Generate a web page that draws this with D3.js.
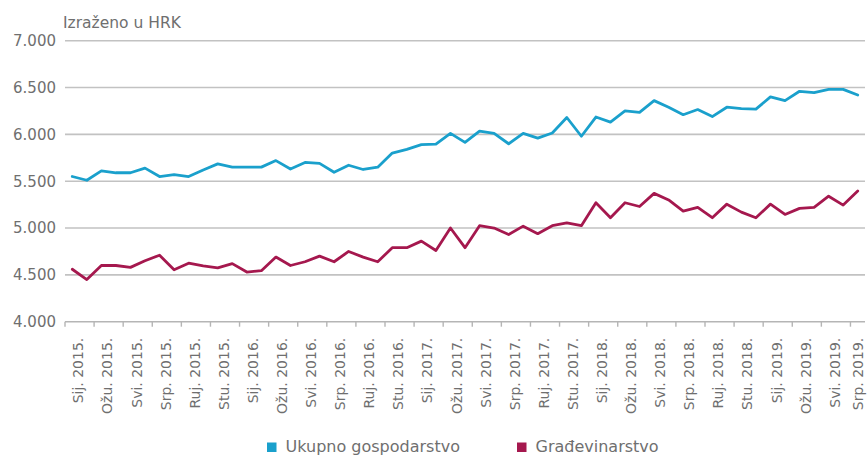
<!DOCTYPE html>
<html>
<head>
<meta charset="utf-8">
<script src="https://cdn.jsdelivr.net/npm/d3@7"></script>
<style>
  html, body { margin: 0; padding: 0; background: #fff; }
  svg { display: block; }
  text { font-family: "DejaVu Sans", sans-serif; fill: #6f6f6f; }
</style>
</head>
<body>
<svg id="chart" width="867" height="455"></svg>
<script>
const monthNames = ["Sij.", "Velj.", "Ožu.", "Tra.", "Svi.", "Lip.", "Srp.", "Kol.", "Ruj.", "Lis.", "Stu.", "Pro."];
const years = [2015, 2016, 2017, 2018, 2019];
const months = [];
years.forEach(yr => monthNames.forEach(m => months.push(m + " " + yr + ".")));
const categories = months.slice(0, 55); // Sij. 2015. – Srp. 2019.

const ukupno = [
  5550, 5510, 5610, 5590, 5590, 5640, 5550, 5570, 5550, 5620,
  5685, 5650, 5650, 5650, 5720, 5630, 5700, 5690, 5595, 5670,
  5625, 5650, 5800, 5840, 5890, 5895, 6010, 5915, 6035, 6010,
  5900, 6010, 5960, 6015, 6180, 5980, 6185, 6130, 6250, 6235,
  6360, 6290, 6210, 6265, 6190, 6290, 6275, 6270, 6400, 6360,
  6460, 6445, 6480, 6480, 6420
];
const gradevinarstvo = [
  4560, 4450, 4600, 4600, 4580, 4650, 4710, 4555, 4625, 4595,
  4575, 4620, 4530, 4545, 4690, 4600, 4640, 4700, 4640, 4750,
  4690, 4640, 4790, 4790, 4860, 4760, 5000, 4790, 5025, 5000,
  4930, 5020, 4940, 5025, 5055, 5025, 5270, 5110, 5270, 5230,
  5370, 5300, 5180, 5220, 5110, 5255, 5170, 5110, 5255, 5145,
  5210, 5220, 5340, 5245, 5395
];
const yTicks = [4000, 4500, 5000, 5500, 6000, 6500, 7000];
const seriesNames = ["Ukupno gospodarstvo", "Građevinarstvo"];
const seriesColors = ["#1aa0cc", "#a5184e"];
const yTitle = "Izraženo u HRK";

(function () {
const svg = d3.select("#chart");
const mLeft = 65, mRight = 865, mTop = 40.7, mBottom = 321.7;

const x = d3.scaleBand().domain(categories).range([mLeft, mRight]).padding(0);
const y = d3.scaleLinear().domain([4000, 7000]).range([mBottom, mTop]);
const fmt = v => d3.format(",")(v).replace(/,/g, ".");

// gridlines
svg.append("g").selectAll("line").data(yTicks.filter(t => t > 4000)).join("line")
  .attr("x1", mLeft).attr("x2", mRight)
  .attr("y1", d => y(d)).attr("y2", d => y(d))
  .attr("stroke", "#c2c2c2").attr("stroke-width", 1.6);

// y tick labels
svg.append("g").selectAll("text").data(yTicks).join("text")
  .attr("x", 56).attr("y", d => y(d)).attr("dy", "0.36em")
  .attr("text-anchor", "end").attr("font-size", 15)
  .text(d => fmt(d));

// y title
svg.append("text").attr("x", 63).attr("y", 28).attr("font-size", 15.5).text(yTitle);

// x axis line
svg.append("line").attr("x1", mLeft).attr("x2", mRight)
  .attr("y1", mBottom).attr("y2", mBottom)
  .attr("stroke", "#b5b5b5").attr("stroke-width", 1.6);

// x ticks every 2 categories at boundaries
const tickCats = categories.filter((c, i) => i % 2 === 0);
svg.append("g").selectAll("line").data(tickCats).join("line")
  .attr("x1", d => x(d)).attr("x2", d => x(d))
  .attr("y1", mBottom).attr("y2", mBottom + 5)
  .attr("stroke", "#b5b5b5").attr("stroke-width", 1.4);

// x labels
svg.append("g").selectAll("text").data(tickCats).join("text")
  .attr("transform", d => `translate(${Math.min(x(d) + x.bandwidth() / 2 + 6, 858)},${mBottom + 16}) rotate(-90)`)
  .attr("text-anchor", "end").attr("dy", "0.36em")
  .attr("font-size", 14)
  .text(d => d);

// lines
const line = d3.line().x((d, i) => x(categories[i]) + x.bandwidth() / 2).y(d => y(d));
[ukupno, gradevinarstvo].forEach((s, k) => {
  svg.append("path").datum(s)
    .attr("d", line).attr("fill", "none")
    .attr("stroke", seriesColors[k]).attr("stroke-width", 2.8)
    .attr("stroke-linejoin", "round").attr("stroke-linecap", "round");
});

// legend
const legendX = [267, 517];
seriesNames.forEach((n, k) => {
  svg.append("rect").attr("x", legendX[k]).attr("y", 442.5).attr("width", 9.5).attr("height", 9.5)
    .attr("fill", seriesColors[k]);
  svg.append("text").attr("x", legendX[k] + 18.5).attr("y", 452).attr("font-size", 16).text(n);
});
})();
</script>
</body>
</html>
